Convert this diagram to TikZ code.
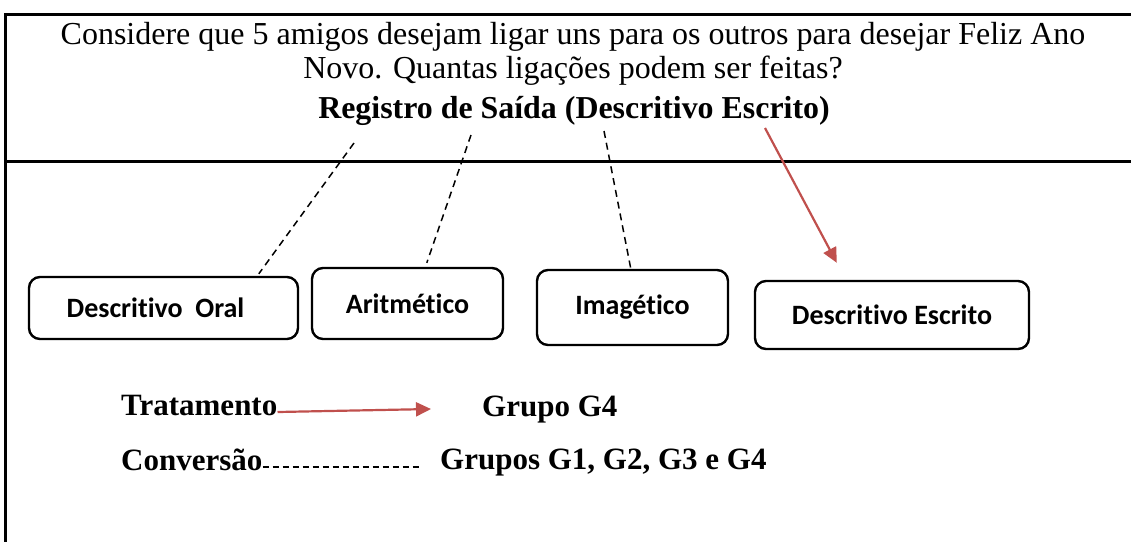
\documentclass[tikz,border=0pt]{standalone}
\usepackage{fontspec}
\setmainfont{Liberation Serif}
\newfontfamily\boxfont{Carlito}[Ligatures=NoCommon]
\usetikzlibrary{arrows.meta,calc}
\definecolor{arrowred}{HTML}{C0504D}
\tikzset{
  frame/.style={line width=3pt,black},
  txtline/.style={anchor=base,inner sep=0pt,font=\fontsize{32}{34}\selectfont},
  titleline/.style={anchor=base,inner sep=0pt,font=\fontsize{31.9}{34}\selectfont\bfseries},
  lowtxt/.style={anchor=base west,inner sep=0pt,font=\fontsize{31}{33}\selectfont\bfseries},
  regbox/.style={draw,line width=2.4pt,rounded corners=11pt,inner sep=0pt,font=\boxfont\fontsize{28}{30}\selectfont\bfseries},
  dashlink/.style={line width=1.5pt,dash pattern=on 7pt off 5pt},
  redarrow/.style={line width=2.2pt,arrowred,-{Triangle[length=15pt,width=14pt]}}
}
\begin{document}
\begin{tikzpicture}[x=1pt,y=-1pt]
\useasboundingbox (0,0) rectangle (1131,542);
% frame
\draw[frame] (1131,14) -- (5,14) -- (5,542);
\draw[frame] (5,161) -- (1131,161);
% header text
\node[txtline] (q1) at (573,44) {Considere que 5 amigos desejam ligar uns para os outros para desejar Feliz Ano};
\node[txtline] (q2) at (573,78) {Novo. Quantas ligações podem ser feitas?};
\node[titleline] (title) at (574,118) {Registro de Saída (Descritivo Escrito)};
% boxes
\node[regbox,minimum width=269pt,minimum height=62pt] (box1) at (163.5,308) {\hspace*{-16pt}Descritivo\ \ Oral};
\node[regbox,minimum width=191pt,minimum height=71pt] (box2) at (407.5,303.5) {Aritmético};
\node[regbox,minimum width=191pt,minimum height=75pt] (box3) at (632.5,307.5) {Imagético};
\node[regbox,minimum width=274pt,minimum height=68pt] (box4) at (892,315) {Descritivo Escrito};
% connector ends
\coordinate (t1) at (354,143);
\coordinate (t2) at (471,135);
\coordinate (t3) at (604,131);
\coordinate (t4) at (765,128);
\coordinate (b1) at ($(box1.north west)+(231,-2)$);
\coordinate (b2) at ($(box2.north west)+(116,-4)$);
\coordinate (b3) at ($(box3.north west)+(95,0)$);
\coordinate (b4) at ($(box4.north west)+(83,-17)$);
\draw[dashlink] (t1) -- (b1);
\draw[dashlink] (t2) -- (b2);
\draw[dashlink] (t3) -- (b3);
\draw[redarrow] (t4) -- (b4);
% bottom
\node[lowtxt] (trat) at (121,415) {Tratamento};
\node[lowtxt] (g4) at (482,416) {Grupo G4};
\node[lowtxt] (conv) at (121,470) {Conversão};
\node[lowtxt] (gall) at (440,469) {Grupos G1, G2, G3 e G4};
\coordinate (a1) at (431,409);
\coordinate (d1) at (422,467);
\draw[redarrow] ([yshift=3pt]trat.base east) -- (a1);
\draw[dashlink,line width=1.3pt,dash pattern=on 6pt off 4pt] (conv.base east |- d1) -- (d1);
\end{tikzpicture}
\end{document}
